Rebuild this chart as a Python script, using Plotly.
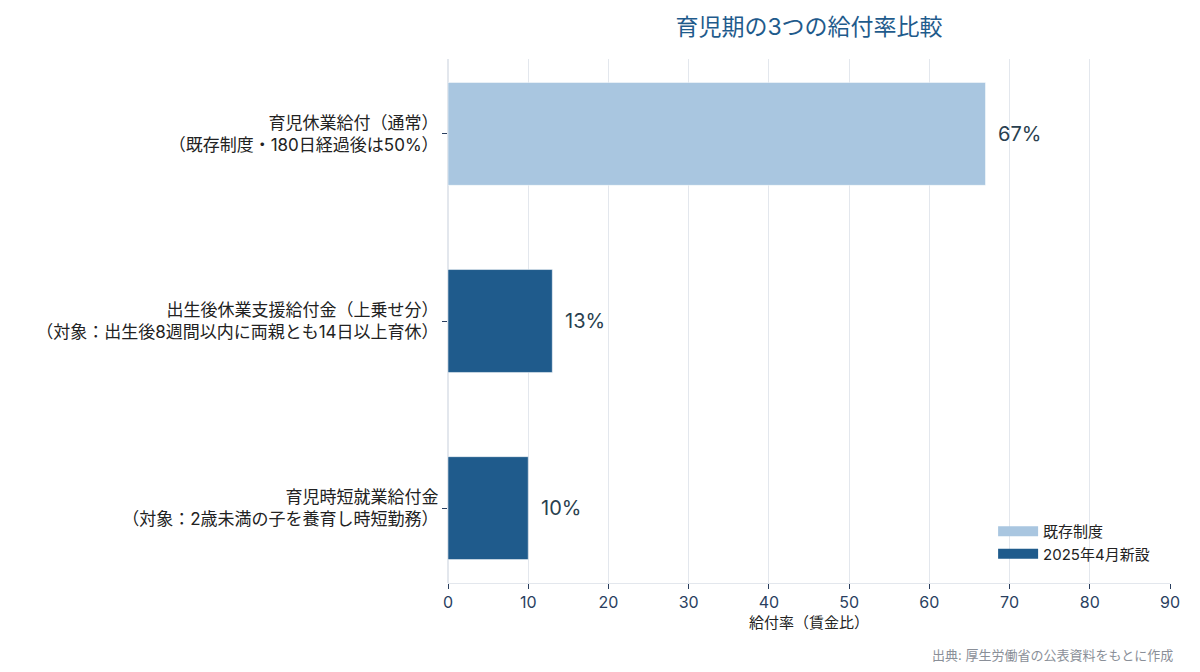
import plotly.graph_objects as go

categories = [
    "育児休業給付（通常）<br>（既存制度・180日経過後は50%）",
    "出生後休業支援給付金（上乗せ分）<br>（対象：出生後8週間以内に両親とも14日以上育休）",
    "育児時短就業給付金<br>（対象：2歳未満の子を養育し時短勤務）",
]
existing_cats = [categories[0]]
existing_vals = [67]
new_cats = [categories[1], categories[2]]
new_vals = [13, 10]

FONT = "Inter, Noto Sans CJK JP"
LIGHT = "#a9c6e0"
DARK = "#1f5b8c"

fig = go.Figure()
fig.add_trace(go.Bar(x=existing_vals, y=existing_cats, orientation="h", name="既存制度",
                     marker_color=LIGHT, width=0.55, showlegend=False))
fig.add_trace(go.Bar(x=new_vals, y=new_cats, orientation="h", name="2025年4月新設",
                     marker_color=DARK, width=0.55, showlegend=False))
# legend keys (wide rectangles)
fig.add_trace(go.Scatter(x=[None], y=[None], mode="lines", name="既存制度",
                         line=dict(color=LIGHT, width=13)))
fig.add_trace(go.Scatter(x=[None], y=[None], mode="lines", name="2025年4月新設",
                         line=dict(color=DARK, width=13)))

annotations = []
for cats, vals in ((existing_cats, existing_vals), (new_cats, new_vals)):
    for c, v in zip(cats, vals):
        annotations.append(dict(x=v, y=c, xref="x", yref="y", text=f"{v}%", showarrow=False,
                                xanchor="left", yanchor="middle", xshift=11,
                                font=dict(size=20, color="#2a3f4f")))
annotations.append(dict(text="出典: 厚生労働省の公表資料をもとに作成", xref="paper", yref="paper",
                        x=1.007, y=-0.118, xanchor="right", yanchor="top", showarrow=False,
                        font=dict(size=13, color="#8a8f98")))

fig.update_layout(
    template="plotly_white",
    width=1200, height=672,
    barmode="overlay",
    font=dict(family=FONT, size=15, color="#2a3f5f"),
    title=dict(text="育児期の3つの給付率比較", x=0.5, xref="paper", xanchor="center",
               y=0.96, yanchor="middle", font=dict(size=23, color=DARK, family=FONT)),
    margin=dict(l=448, r=30, t=59, b=89),
    legend=dict(x=0.755, y=0.025, xanchor="left", yanchor="bottom", itemwidth=40,
                bgcolor="rgba(255,255,255,0)", font=dict(size=15, color="#222")),
    showlegend=True,
    annotations=annotations,
)
fig.update_xaxes(range=[0, 90], dtick=10, ticks="outside", ticklen=5,
                 tickcolor="#2a3f5f", showline=True, linecolor="#e3e7ed",
                 gridcolor="#e3e7ed", zerolinecolor="#e3e7ed",
                 title=dict(text="給付率（賃金比）", font=dict(size=15, color="#222"), standoff=6),
                 tickfont=dict(size=16))
fig.update_yaxes(categoryorder="array", categoryarray=categories,
                 range=[2.4, -0.4], ticks="outside", ticklen=5, tickcolor="#2a3f5f",
                 tickfont=dict(size=17, color="#222"))

fig.write_html("out.html")
